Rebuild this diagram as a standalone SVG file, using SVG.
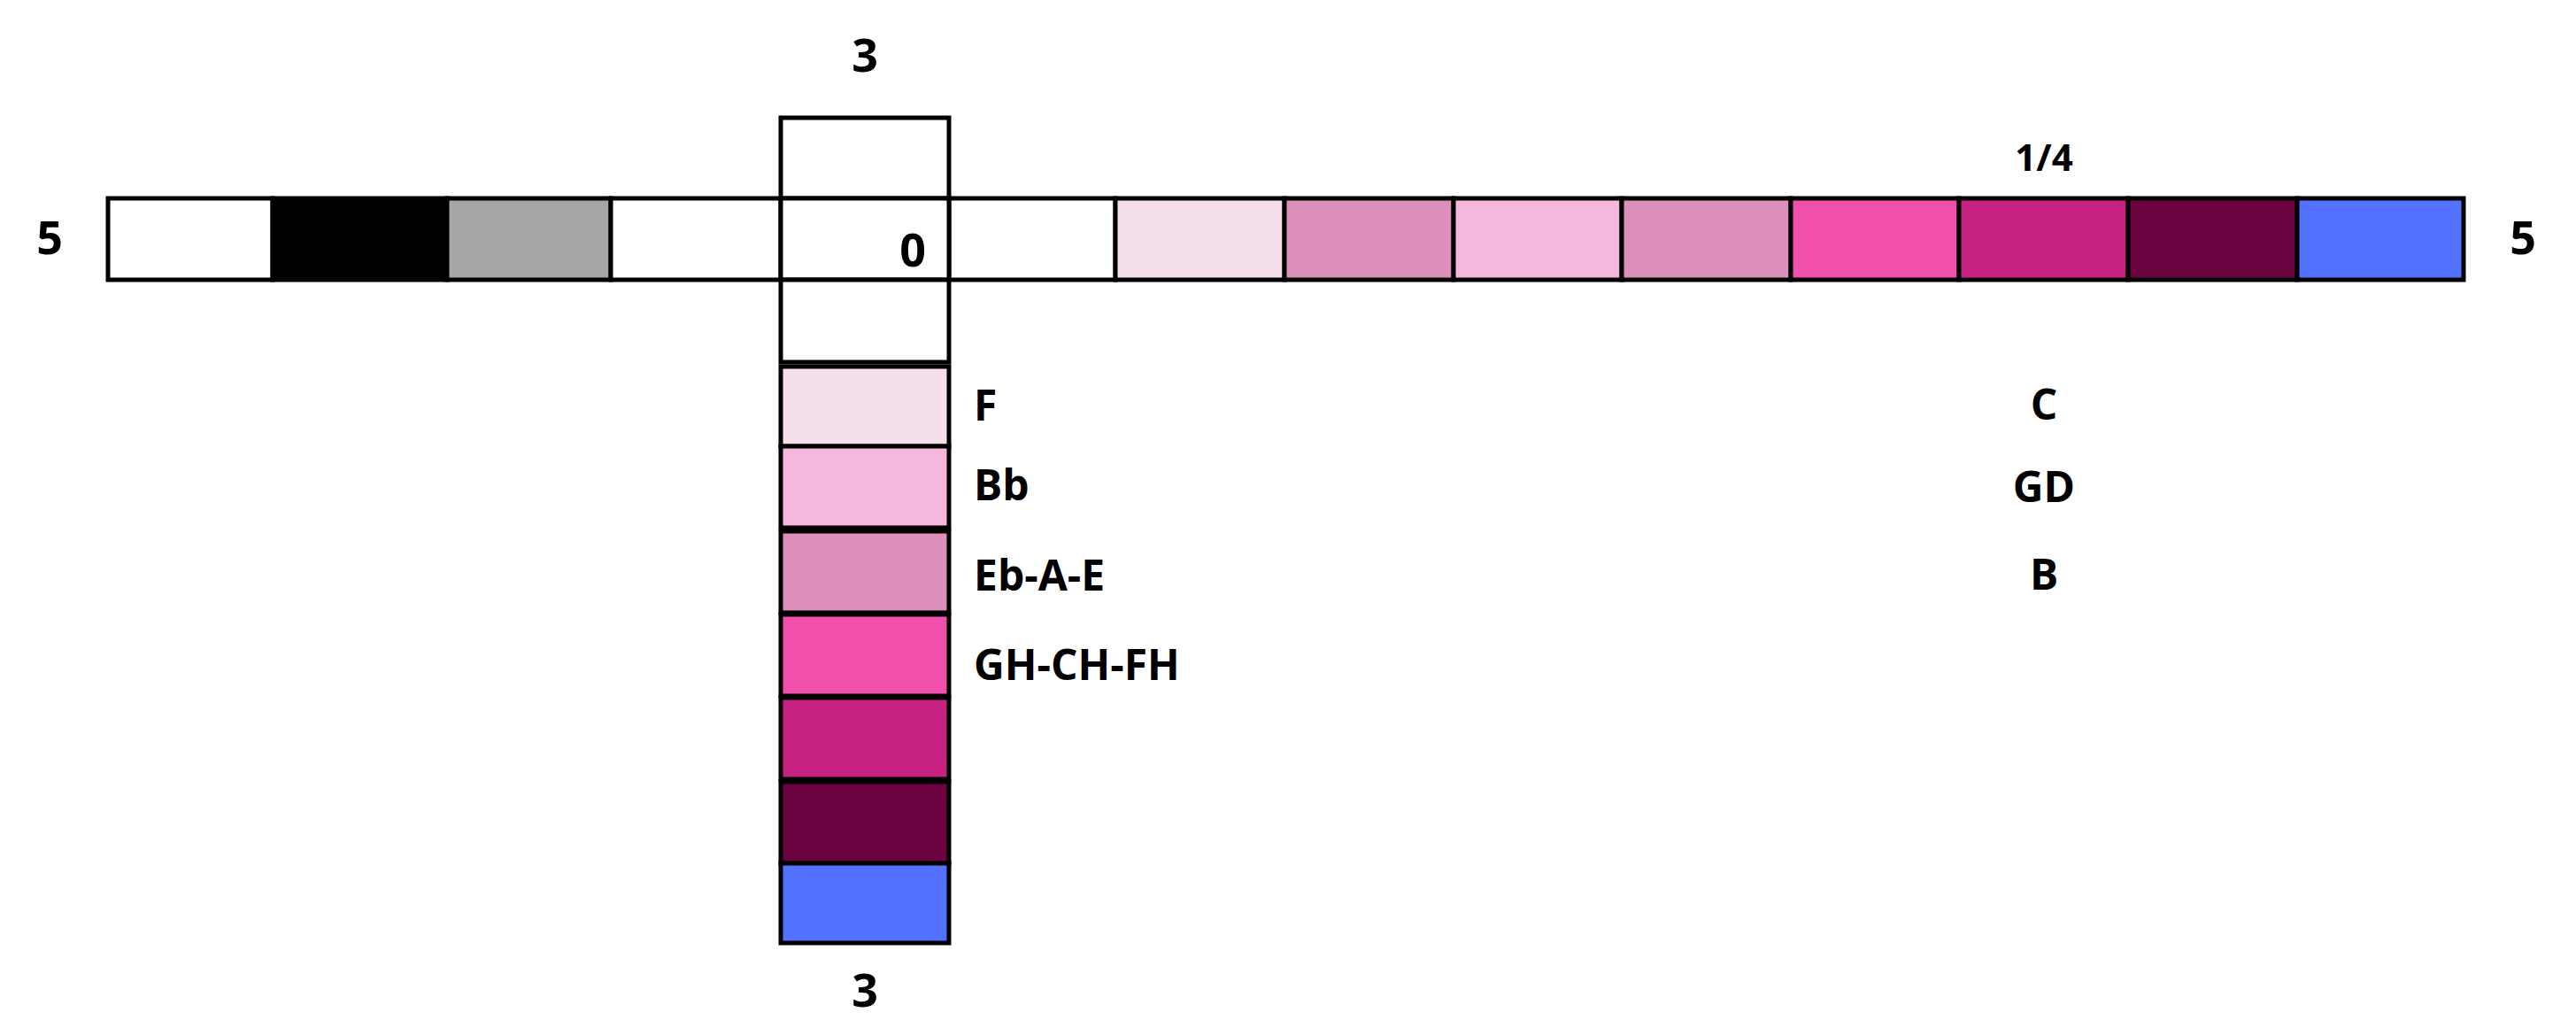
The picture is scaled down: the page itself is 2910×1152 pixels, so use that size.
<svg xmlns="http://www.w3.org/2000/svg" width="2910" height="1152" viewBox="0 0 2910 1152">
<style>
.c{stroke:#000;stroke-width:5}
.t{font-family:"Open Sans","Noto Sans","DejaVu Sans",sans-serif;font-weight:bold;font-size:48px;fill:#000}
.d{font-size:52px}
.m{text-anchor:middle}
.w{fill:#ffffff}.k{fill:#000000}.g{fill:#a6a6a6}
.p1{fill:#f5dfea}.p2{fill:#dd8fbc}.p3{fill:#f5b8dc}.p4{fill:#f050ac}.p5{fill:#c72282}.p6{fill:#6a0340}.bl{fill:#5271ff}
</style>
<rect width="2910" height="1152" fill="#fff"/>
<g id="row">
<rect class="c w" x="122" y="224" width="186" height="92"/>
<rect class="c k" x="308" y="224" width="197" height="92"/>
<rect class="c g" x="505" y="224" width="185" height="92"/>
<rect class="c w" x="690" y="224" width="192" height="92"/>
<rect class="c w" x="1072" y="224" width="188" height="92"/>
<rect class="c p1" x="1260" y="224" width="191" height="92"/>
<rect class="c p2" x="1451" y="224" width="191" height="92"/>
<rect class="c p3" x="1642" y="224" width="190" height="92"/>
<rect class="c p2" x="1832" y="224" width="191" height="92"/>
<rect class="c p4" x="2023" y="224" width="190" height="92"/>
<rect class="c p5" x="2213" y="224" width="191" height="92"/>
<rect class="c p6" x="2404" y="224" width="191" height="92"/>
<rect class="c bl" x="2595" y="224" width="188" height="92"/>
</g>
<g id="column">
<rect class="c w" x="882" y="133" width="190" height="91"/>
<rect class="c w" x="882" y="224" width="190" height="92"/>
<rect class="c w" x="882" y="316" width="190" height="93"/>
<rect class="c p1" x="882" y="414" width="190" height="90"/>
<rect class="c p3" x="882" y="504" width="190" height="92"/>
<rect class="c p2" x="882" y="600" width="190" height="92"/>
<rect class="c p4" x="882" y="694" width="190" height="92"/>
<rect class="c p5" x="882" y="788" width="190" height="92"/>
<rect class="c p6" x="882" y="883" width="190" height="92"/>
<rect class="c bl" x="882" y="975" width="190" height="90"/>
</g>
<g id="labels">
<text class="t d m" x="977" y="81">3</text>
<text class="t d m" x="977" y="1137">3</text>
<text class="t d m" x="56" y="287">5</text>
<text class="t d m" x="2850" y="287">5</text>
<text class="t d m" x="1031" y="301">0</text>
<text class="t m" x="2309" y="193" style="font-size:42px">1/4</text>
<text class="t" x="1100" y="475">F</text>
<text class="t" x="1100" y="565">Bb</text>
<text class="t" x="1100" y="667">Eb-A-E</text>
<text class="t" x="1100" y="768">GH-CH-FH</text>
<text class="t m" x="2309" y="474">C</text>
<text class="t m" x="2309" y="567">GD</text>
<text class="t m" x="2309" y="666">B</text>
</g>
</svg>
